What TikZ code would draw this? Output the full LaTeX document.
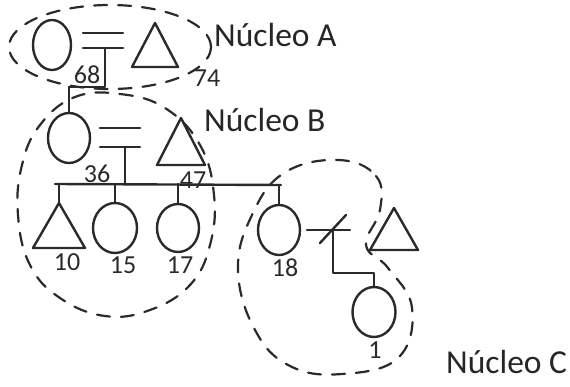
\documentclass[tikz,border=0pt]{standalone}
\usepackage{fontspec}
\setmainfont{Carlito}
\usetikzlibrary{shapes.geometric}
\definecolor{ink}{HTML}{2A2A2A}
\tikzset{
  sym/.style={draw=ink, line width=2.4pt, line cap=round, line join=round},
  fem/.style={ellipse, draw=ink, line width=2.4pt, inner sep=0pt, outer sep=0pt},
  tribox/.style={rectangle, inner sep=0pt, outer sep=0pt},
  grp/.style={draw=ink, line width=2.2pt, dash pattern=on 13pt off 11pt, line cap=round},
  lbl/.style={font=\fontsize{33.5}{38}\selectfont, text=black!85, inner sep=0pt},
  age/.style={font=\fontsize{26}{28}\selectfont, text=ink, inner sep=0pt}
}
\begin{document}
\begin{tikzpicture}[x=1pt,y=-1pt]
\useasboundingbox (0,0) rectangle (570,387);
% ---------- Nucleus A ----------
\node[fem, minimum width=38pt, minimum height=50pt] (cA) at (52,45) {};
\node[tribox, minimum width=46pt, minimum height=44pt] (tA) at (155,45) {};
\draw[sym] (tA.north) -- (tA.south east) -- (tA.south west) -- cycle;
\coordinate (mA1l) at (83,33); \coordinate (mA1r) at (123,33);
\coordinate (mA2l) at (83,48); \coordinate (mA2r) at (123,48);
\coordinate (mAd) at (105,48); \coordinate (mAb) at (105,87);
\coordinate (mAc) at (69,87);
\draw[sym] (mA1l) -- (mA1r);
\draw[sym] (mA2l) -- (mA2r);
\draw[sym] (mAd) -- (mAb) -- (mAc);
% ---------- Nucleus B ----------
\node[fem, minimum width=42pt, minimum height=50pt] (cB) at (69,138) {};
\draw[sym] (mAc) -- (cB.north);
\node[tribox, minimum width=48pt, minimum height=47pt] (tB) at (181,141.5) {};
\draw[sym] (tB.north) -- (tB.south east) -- (tB.south west) -- cycle;
\coordinate (mB1l) at (100,128); \coordinate (mB1r) at (140,128);
\coordinate (mB2l) at (100,147); \coordinate (mB2r) at (140,147);
\coordinate (mBd) at (125,147); \coordinate (mBb) at (125,184);
\draw[sym] (mB1l) -- (mB1r);
\draw[sym] (mB2l) -- (mB2r);
\draw[sym] (mBd) -- (mBb);
% sibling line
\coordinate (sL) at (55,184); \coordinate (sR) at (281,185);
\draw[sym] (sL) -- (sR);
% children
\node[tribox, minimum width=52pt, minimum height=45pt] (t10) at (59,225.5) {};
\draw[sym] (t10.north) -- (t10.south east) -- (t10.south west) -- cycle;
\coordinate (s10) at (59,184);
\draw[sym] (s10) -- (t10.north);
\node[fem, minimum width=44pt, minimum height=50pt] (c15) at (115,228) {};
\coordinate (s15) at (115,184);
\draw[sym] (s15) -- (c15.north);
\node[fem, minimum width=42pt, minimum height=48pt] (c17) at (178,228) {};
\coordinate (s17) at (178,184);
\draw[sym] (s17) -- (c17.north);
\node[fem, minimum width=42pt, minimum height=50pt] (c18) at (279,230) {};
\coordinate (s18) at (279,185);
\draw[sym] (s18) -- (c18.north);
% ---------- Nucleus C ----------
\node[tribox, minimum width=48pt, minimum height=42pt] (tC) at (394,229) {};
\draw[sym] (tC.north) -- (tC.south east) -- (tC.south west) -- cycle;
\coordinate (mCl) at (307,230); \coordinate (mCr) at (350,230);
\coordinate (slA) at (320,243); \coordinate (slB) at (346,215);
\draw[sym] (mCl) -- (mCr);
\draw[sym] (slA) -- (slB);
\node[fem, minimum width=43pt, minimum height=50pt] (c1) at (374,312) {};
\coordinate (mCd) at (333,230); \coordinate (mCb) at (333,273);
\coordinate (mCc) at (374,273);
\draw[sym] (mCd) -- (mCb) -- (mCc) -- (c1.north);
% ---------- ages ----------
\node[age] (a68) at (87,75) {68};
\node[age] (a74) at (207,78) {74};
\node[age] (a36) at (97,174) {36};
\node[age] (a47) at (193,180) {47};
\node[age] (a10) at (67,262) {10};
\node[age] (a15) at (123,265) {15};
\node[age] (a17) at (180,265) {17};
\node[age] (a18) at (285,268) {18};
\node[age] (a1) at (375,350) {1};
% ---------- group outlines ----------
\draw[grp] (110,47) ellipse [x radius=101pt, y radius=42pt];
\draw[grp] plot[smooth cycle, tension=0.7] coordinates {
  (75,97) (120,94) (165,108) (200,145) (214,195) (210,245) (190,285)
  (150,310) (105,316) (60,298) (30,265) (18,215) (22,165) (40,125)};
\draw[grp] plot[smooth cycle, tension=0.7] coordinates {
  (338,160) (376,176) (380,210) (366,245) (388,268) (412,308) (398,358)
  (342,374) (290,366) (255,330) (238,270) (252,215) (284,173)};
% ---------- labels ----------
\node[lbl, anchor=base west] (nA) at (214,47) {Núcleo A};
\node[lbl, anchor=base west] (nB) at (204,132) {Núcleo B};
\node[lbl, anchor=base west] (nC) at (446,373) {Núcleo C};
\end{tikzpicture}
\end{document}
